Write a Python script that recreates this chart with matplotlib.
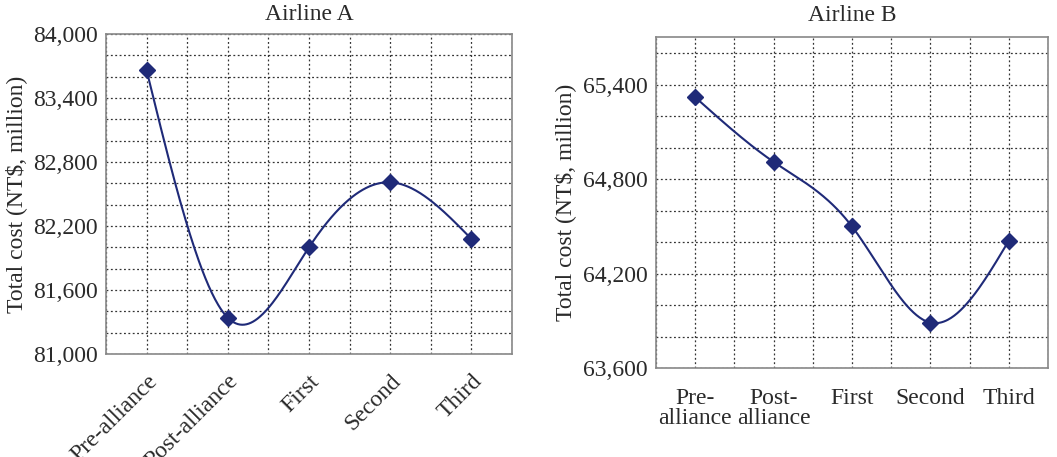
import numpy as np
import matplotlib
matplotlib.use("Agg")
import matplotlib.pyplot as plt
from matplotlib.ticker import MultipleLocator, FuncFormatter

# values
stages = ["Pre-alliance", "Post-alliance", "First", "Second", "Third"]
stages_b = ["Pre-\nalliance", "Post-\nalliance", "First", "Second", "Third"]
cost_a = [83660, 81340, 82000, 82610, 82080]
cost_b = [65320, 64910, 64500, 63890, 64410]

LINE = "#1f2a78"
TXT = "#2a2a2a"
FS = 17


def natural_spline(x, y, xs):
    x = np.asarray(x, dtype=float)
    y = np.asarray(y, dtype=float)
    n = len(x)
    h = np.diff(x)
    A = np.zeros((n, n))
    r = np.zeros(n)
    A[0, 0] = A[-1, -1] = 1.0
    for i in range(1, n - 1):
        A[i, i - 1] = h[i - 1]
        A[i, i] = 2 * (h[i - 1] + h[i])
        A[i, i + 1] = h[i]
        r[i] = 6 * ((y[i + 1] - y[i]) / h[i] - (y[i] - y[i - 1]) / h[i - 1])
    M = np.linalg.solve(A, r)
    idx = np.clip(np.searchsorted(x, xs) - 1, 0, n - 2)
    x0, x1 = x[idx], x[idx + 1]
    hh = x1 - x0
    t0, t1 = x1 - xs, xs - x0
    return (M[idx] * t0**3 / (6 * hh) + M[idx + 1] * t1**3 / (6 * hh)
            + (y[idx] / hh - M[idx] * hh / 6) * t0
            + (y[idx + 1] / hh - M[idx + 1] * hh / 6) * t1)


plt.rcParams["font.family"] = ["Liberation Serif", "DejaVu Serif"]
plt.rcParams["font.size"] = FS

fig = plt.figure(figsize=(10.57, 4.57), dpi=100)
ax_a = fig.add_axes([0.1003, 0.2254, 0.384, 0.700])
ax_b = fig.add_axes([0.6206, 0.194, 0.3709, 0.7243])

thou = FuncFormatter(lambda v, p: f"{int(round(v)):,}")


def style(ax, lo, hi):
    ax.set_xlim(0.5, 5.5)
    ax.set_ylim(lo, hi)
    ax.xaxis.set_major_locator(MultipleLocator(1))
    ax.xaxis.set_minor_locator(MultipleLocator(0.5))
    ax.yaxis.set_major_locator(MultipleLocator(600))
    ax.yaxis.set_minor_locator(MultipleLocator(200))
    ax.yaxis.set_major_formatter(thou)
    ax.grid(True, which="both", color="#333333", linestyle=(0, (1.5, 2)), lw=0.9)
    ax.set_axisbelow(True)
    ax.tick_params(which="both", length=0, labelsize=FS, colors=TXT)
    ax.tick_params(axis="y", pad=6)
    for s in ax.spines.values():
        s.set_color("#888888")
        s.set_linewidth(1.2)
    ax.set_ylabel("Total cost (NT$, million)", fontsize=FS, color=TXT)


def draw(ax, vals):
    xs = np.arange(1, len(vals) + 1)
    xf = np.linspace(1, len(vals), 300)
    ax.plot(xf, natural_spline(xs, vals, xf), color=LINE, lw=1.5, zorder=3)
    ax.plot(xs, vals, "D", color=LINE, ms=8, zorder=4)


style(ax_a, 81000, 84000)
draw(ax_a, cost_a)
ax_a.set_xticks(range(1, 6))
ax_a.set_xticklabels(stages, rotation=45, ha="right", rotation_mode="anchor")
ax_a.tick_params(axis="x", pad=12)
ax_a.set_title("Airline A", fontsize=FS, color=TXT, pad=10)
ax_a.yaxis.set_label_coords(-0.195, 0.5)

style(ax_b, 63600, 65700)
draw(ax_b, cost_b)
ax_b.set_xticks(range(1, 6))
ax_b.set_xticklabels(stages_b, linespacing=0.95)
ax_b.tick_params(axis="x", pad=14)
ax_b.set_title("Airline B", fontsize=FS, color=TXT, pad=12)
ax_b.yaxis.set_label_coords(-0.205, 0.5)

fig.savefig("out.png", dpi=100)
